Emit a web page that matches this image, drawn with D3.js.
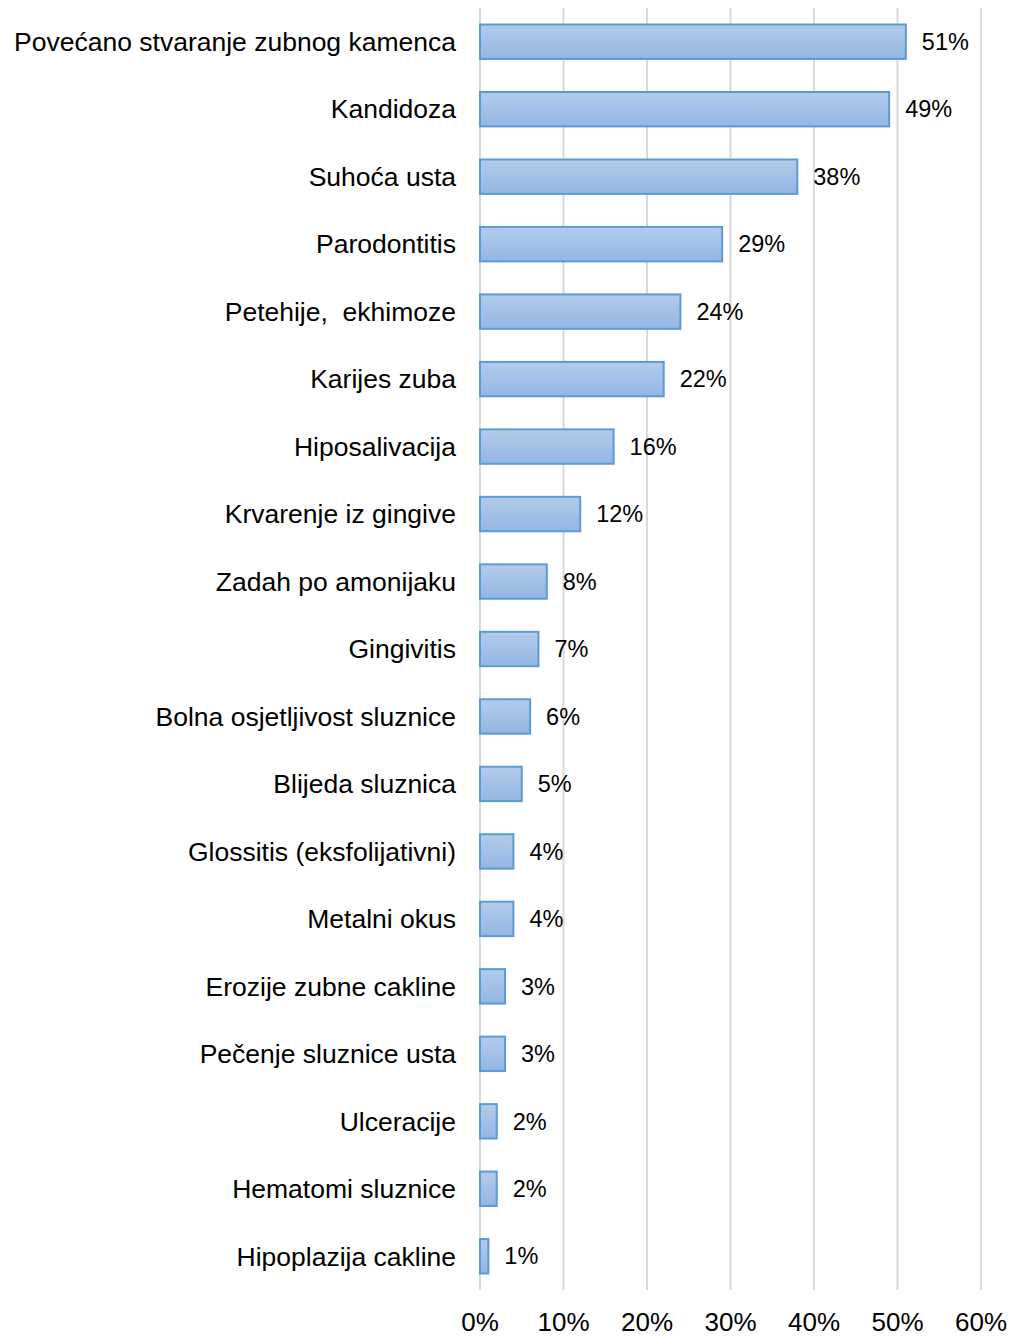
<!DOCTYPE html>
<html>
<head>
<meta charset="utf-8">
<script src="https://cdn.jsdelivr.net/npm/d3@7"></script>
<style>
  body { margin: 0; background: #fff; }
  #chart { width: 1011px; height: 1336px; }
  text { font-family: "Liberation Sans", Arial, sans-serif; fill: #000; white-space: pre; }
</style>
</head>
<body>
<div id="chart"></div>
<script>
const categories = [
  "Povećano stvaranje zubnog kamenca", "Kandidoza", "Suhoća usta", "Parodontitis",
  "Petehije,  ekhimoze", "Karijes zuba", "Hiposalivacija", "Krvarenje iz gingive",
  "Zadah po amonijaku", "Gingivitis", "Bolna osjetljivost sluznice", "Blijeda sluznica",
  "Glossitis (eksfolijativni)", "Metalni okus", "Erozije zubne cakline",
  "Pečenje sluznice usta", "Ulceracije", "Hematomi sluznice", "Hipoplazija cakline"
];
const values = [51, 49, 38, 29, 24, 22, 16, 12, 8, 7, 6, 5, 4, 4, 3, 3, 2, 2, 1];
const xTicks = [0, 10, 20, 30, 40, 50, 60];

const width = 1011, height = 1336;
const margin = { top: 8, right: 30, bottom: 46, left: 480 };
const plotW = 981 - margin.left;
const plotH = 1290 - margin.top;

const svg = d3.select("#chart").append("svg")
  .attr("width", width).attr("height", height)
  .attr("viewBox", `0 0 ${width} ${height}`);

const defs = svg.append("defs");
const grad = defs.append("linearGradient")
  .attr("id", "barGrad").attr("x1", 0).attr("y1", 0).attr("x2", 0).attr("y2", 1);
grad.append("stop").attr("offset", "0%").attr("stop-color", "#b3cbea");
grad.append("stop").attr("offset", "100%").attr("stop-color", "#93b6e2");

const g = svg.append("g").attr("transform", `translate(${margin.left},${margin.top})`);

const x = d3.scaleLinear().domain([0, 60]).range([0, plotW]);
const y = d3.scaleBand().domain(categories).range([0, plotH]).paddingInner(0.49).paddingOuter(0.245);

// gridlines
g.selectAll(".grid")
  .data(xTicks)
  .enter()
  .append("line")
  .attr("x1", d => x(d)).attr("x2", d => x(d))
  .attr("y1", 0).attr("y2", plotH)
  .attr("stroke", "#d9d9d9")
  .attr("stroke-width", 2);

// x axis tick labels
g.selectAll(".xlab")
  .data(xTicks)
  .enter()
  .append("text")
  .attr("x", d => x(d))
  .attr("y", plotH + 41)
  .attr("text-anchor", "middle")
  .style("font-size", "26px")
  .text(d => d + "%");

// category labels
g.selectAll(".ylab")
  .data(categories)
  .enter()
  .append("text")
  .attr("x", -24)
  .attr("y", d => y(d) + y.bandwidth() / 2)
  .attr("dy", "0.35em")
  .attr("text-anchor", "end")
  .style("font-size", "26.5px")
  .text(d => d);

// bars
g.selectAll(".bar")
  .data(values)
  .enter()
  .append("rect")
  .attr("x", x(0))
  .attr("y", (d, i) => y(categories[i]))
  .attr("width", d => x(d) - x(0))
  .attr("height", y.bandwidth())
  .attr("fill", "url(#barGrad)")
  .attr("stroke", "#5b9bd5")
  .attr("stroke-width", 2);

// value labels
g.selectAll(".vlab")
  .data(values)
  .enter()
  .append("text")
  .attr("x", d => x(d) + 16)
  .attr("y", (d, i) => y(categories[i]) + y.bandwidth() / 2)
  .attr("dy", "0.35em")
  .style("font-size", "23.5px")
  .text(d => d + "%");
</script>
</body>
</html>
